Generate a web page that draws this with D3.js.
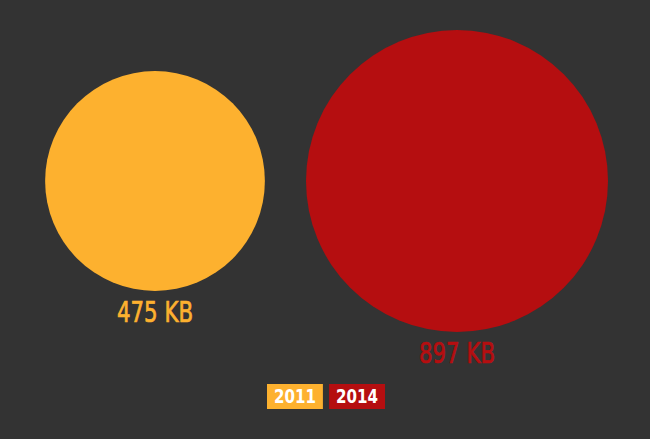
<!DOCTYPE html>
<html><head><meta charset="utf-8">
<script src="https://cdn.jsdelivr.net/npm/d3@7"></script>
<style>html,body{margin:0;padding:0;background:#333333;}svg{display:block;}</style>
</head><body>
<svg id="chart" width="650" height="439"></svg>
<script>
const years = ["2011", "2014"];
const sizesKB = [475, 897];
const colors = ["#FDB12F", "#B50E10"];

const svg = d3.select("#chart");
const W = 650, H = 439;
svg.append("rect").attr("width", W).attr("height", H).attr("fill", "#333333");

const font = "'DejaVu Sans Condensed','Liberation Sans Narrow',sans-serif";
const x = d3.scalePoint().domain(years).range([155, 457]);
const r = d3.scaleSqrt().domain([0, d3.max(sizesKB)]).range([0, 151]);
const cy = 181;

const data = years.map((y, i) => ({year: y, kb: sizesKB[i], color: colors[i]}));

svg.selectAll("circle.bubble").data(data).enter().append("circle")
  .attr("class", "bubble")
  .attr("cx", d => x(d.year)).attr("cy", cy).attr("r", d => r(d.kb))
  .attr("fill", d => d.color);

svg.selectAll("text.val").data(data).enter().append("text")
  .attr("class", "val")
  .attr("x", d => x(d.year)).attr("y", d => cy + r(d.kb) + 31)
  .attr("text-anchor", "middle")
  .attr("font-family", font).attr("font-size", 29)
  .attr("textLength", 76).attr("lengthAdjust", "spacingAndGlyphs")
  .attr("fill", d => d.color)
  .attr("stroke", d => d.color).attr("stroke-width", 0.7)
  .text(d => d.kb + " KB");

// legend
const lx = d3.scaleBand().domain(years).range([267, 385]).paddingInner(0.1);
const lg = svg.selectAll("g.leg").data(data).enter().append("g").attr("class", "leg");
lg.append("rect").attr("x", d => lx(d.year)).attr("y", 384).attr("width", lx.bandwidth()).attr("height", 25)
  .attr("fill", d => d.color);
lg.append("text").attr("x", d => lx(d.year) + lx.bandwidth() / 2).attr("y", 403)
  .attr("text-anchor", "middle").attr("font-family", font).attr("font-weight", "bold")
  .attr("font-size", 20).attr("textLength", 42).attr("lengthAdjust", "spacingAndGlyphs")
  .attr("fill", "#ffffff").text(d => d.year);
</script>
</body></html>
